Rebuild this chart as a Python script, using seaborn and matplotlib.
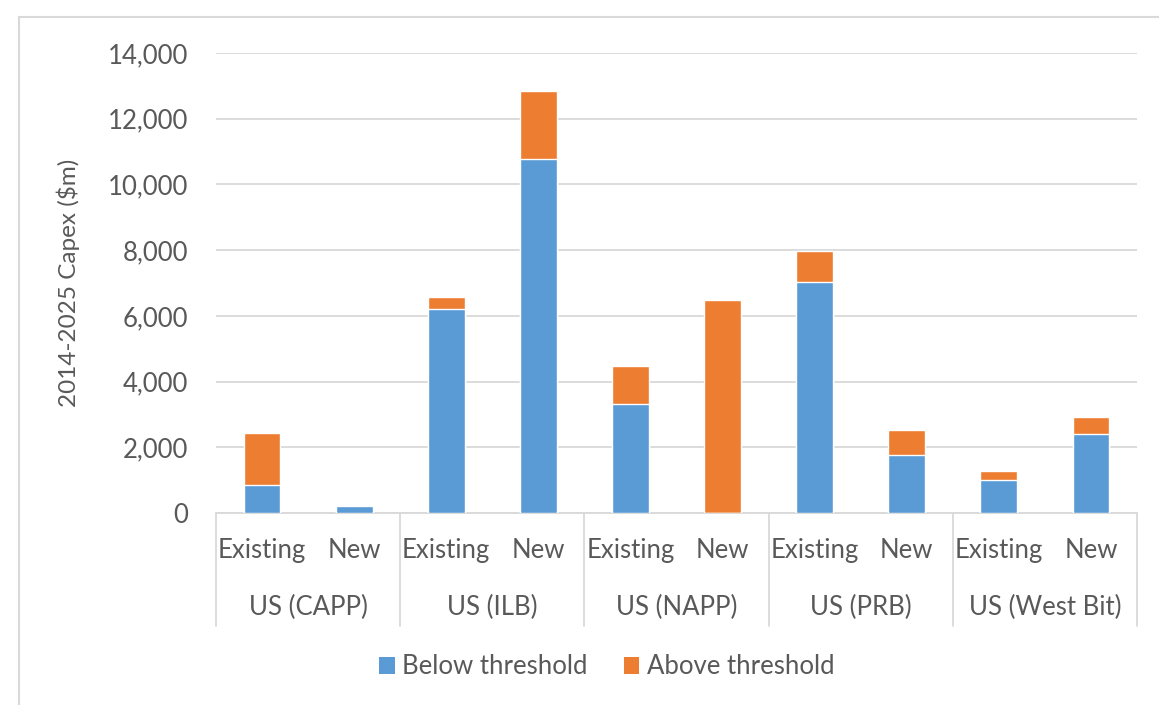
import matplotlib
matplotlib.use("Agg")
import matplotlib.pyplot as plt
import matplotlib.transforms as mtransforms
from matplotlib.lines import Line2D
from matplotlib.patches import Patch
import seaborn as sns
import pandas as pd

groups = ["US (CAPP)", "US (ILB)", "US (NAPP)", "US (PRB)", "US (West Bit)"]
subcats = ["Existing", "New"]
below = [850, 200, 6200, 10780, 3330, 0, 7030, 1780, 1010, 2390]
above = [1600, 0, 370, 2070, 1130, 6480, 940, 760, 280, 520]
series_names = ["Below threshold", "Above threshold"]
yticks = [0, 2000, 4000, 6000, 8000, 10000, 12000, 14000]
ylabel = "2014-2025 Capex ($m)"

BLUE = "#5B9BD5"
ORANGE = "#ED7D31"
GRID = "#D9D9D9"
TEXT = "#595959"
FS = 18.5

sns.set_theme(style="white")
plt.rcParams["font.family"] = ["Lato", "DejaVu Sans"]

keys = [f"{g}|{s}" for g in groups for s in subcats]
df = pd.DataFrame({
    "key": keys,
    "below": below,
    "total": [b + a for b, a in zip(below, above)],
})

fig = plt.figure(figsize=(11.59, 7.05), dpi=100)
ax = fig.add_axes([216 / 1159, 192 / 705, (1137 - 216) / 1159, 460 / 705])

sns.barplot(data=df, x="key", y="total", order=keys, color=ORANGE, width=0.4,
            saturation=1, ax=ax, zorder=3)
sns.barplot(data=df, x="key", y="below", order=keys, color=BLUE, width=0.4,
            saturation=1, ax=ax, zorder=3)

ax.set_xlim(-0.5, len(keys) - 0.5)
ax.set_ylim(0, 14000)
ax.set_yticks(yticks)
ax.set_yticklabels([f"{v:,}" for v in yticks], fontsize=FS, color=TEXT)
ax.tick_params(axis="y", length=0, pad=20)
ax.yaxis.grid(True, color=GRID, linewidth=1.3, zorder=0)
ax.set_axisbelow(True)
for s in ["top", "right", "left"]:
    ax.spines[s].set_visible(False)
ax.spines["bottom"].set_color(GRID)
ax.spines["bottom"].set_linewidth(1.3)

ax.set_xticks([])
ax.set_xlabel("")
ax.set_ylabel(ylabel, fontsize=17.5, color=TEXT)
ax.yaxis.set_label_coords(-0.148, 0.5)

trans = mtransforms.blended_transform_factory(ax.transData, ax.transAxes)
for i, k in enumerate(keys):
    ax.text(i, -0.082, k.split("|")[1], transform=trans, ha="center", va="center",
            fontsize=FS, color=TEXT)
n = len(subcats)
for gi, g in enumerate(groups):
    ax.text(gi * n + (n - 1) / 2, -0.205, g, transform=trans, ha="center", va="center",
            fontsize=FS, color=TEXT)
for gi in range(len(groups) + 1):
    xpos = gi * n - 0.5
    ax.add_line(Line2D([xpos, xpos], [0, -0.245], transform=trans, color=GRID,
                       linewidth=1.3, clip_on=False))

handles = [Patch(facecolor=BLUE, edgecolor="none"), Patch(facecolor=ORANGE, edgecolor="none")]
fig.legend(handles, series_names, loc="center", bbox_to_anchor=(607 / 1159, 1 - 667 / 705),
           ncol=2, frameon=False, fontsize=FS, handlelength=0.6, handleheight=0.6,
           handletextpad=0.3, columnspacing=1.4, labelcolor=TEXT)

# outer chart frame (left and top visible)
fig.add_artist(Line2D([19 / 1159, 19 / 1159], [0, 1 - 17 / 705], transform=fig.transFigure,
                      color=GRID, linewidth=1.5))
fig.add_artist(Line2D([19 / 1159, 1], [1 - 17 / 705, 1 - 17 / 705], transform=fig.transFigure,
                      color=GRID, linewidth=1.5))

fig.savefig("out.png", dpi=100, facecolor="white")
